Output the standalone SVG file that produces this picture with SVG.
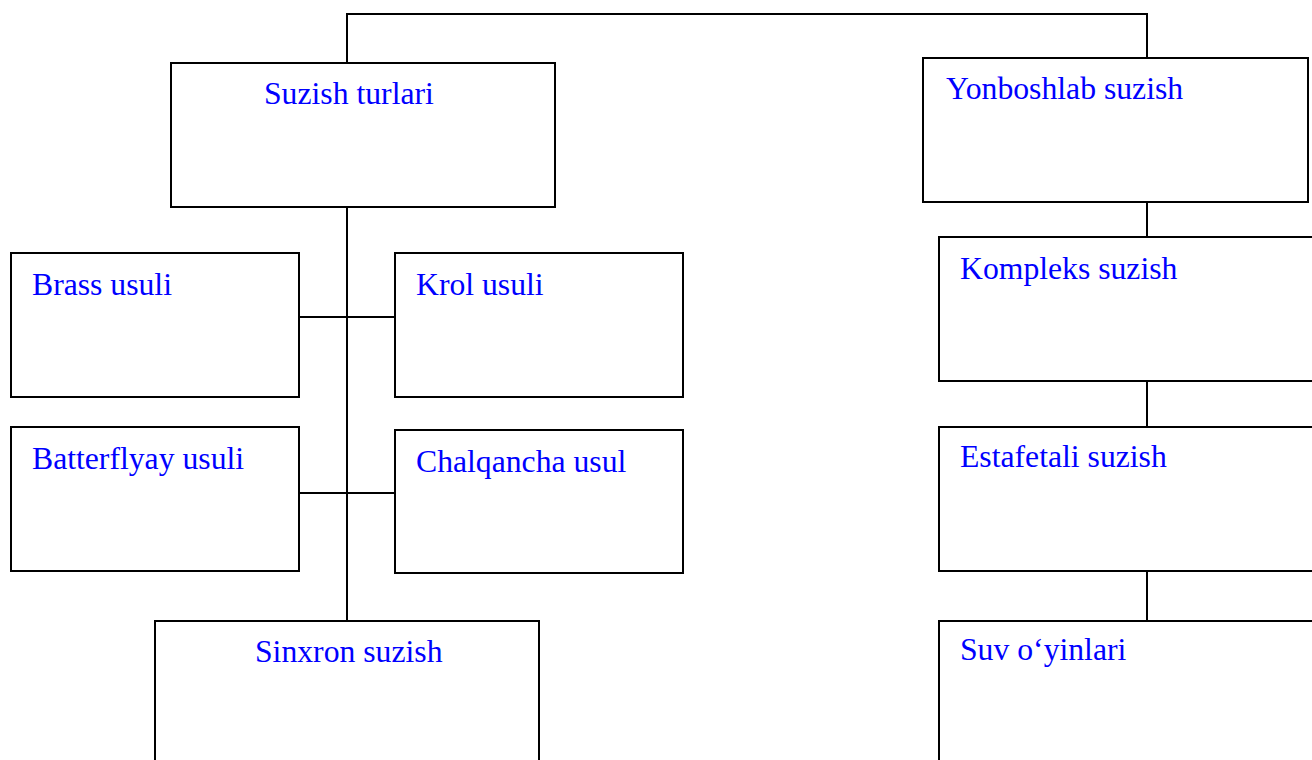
<svg xmlns="http://www.w3.org/2000/svg" width="1312" height="760" viewBox="0 0 1312 760">
<style>
.box{fill:#fff;stroke:#000;stroke-width:2}
.lbl{font-family:"Liberation Serif","Times New Roman",serif;font-size:31.7px;fill:#0000ff}
.con{fill:none;stroke:#000;stroke-width:2}
</style>
<rect width="1312" height="760" fill="#fff"/>
<g id="connectors">
<polyline class="con" points="347,63 347,14 1147,14 1147,58"/>
<line class="con" x1="347" y1="207" x2="347" y2="621"/>
<line class="con" x1="299" y1="317" x2="395" y2="317"/>
<line class="con" x1="299" y1="493" x2="395" y2="493"/>
<line class="con" x1="1147" y1="202" x2="1147" y2="237"/>
<line class="con" x1="1147" y1="381" x2="1147" y2="427"/>
<line class="con" x1="1147" y1="571" x2="1147" y2="621"/>
</g>
<g id="suzish-turlari"><rect class="box" x="171" y="63" width="384" height="144"/><text class="lbl" x="264" y="104">Suzish turlari</text></g>
<g id="yonboshlab"><rect class="box" x="923" y="58" width="385" height="144"/><text class="lbl" x="946" y="99">Yonboshlab suzish</text></g>
<g id="brass"><rect class="box" x="11" y="253" width="288" height="144"/><text class="lbl" x="32" y="295">Brass usuli</text></g>
<g id="krol"><rect class="box" x="395" y="253" width="288" height="144"/><text class="lbl" x="416" y="295">Krol usuli</text></g>
<g id="batterflyay"><rect class="box" x="11" y="427" width="288" height="144"/><text class="lbl" x="32" y="469">Batterflyay usuli</text></g>
<g id="chalqancha"><rect class="box" x="395" y="430" width="288" height="143"/><text class="lbl" x="416" y="472">Chalqancha usul</text></g>
<g id="sinxron"><rect class="box" x="155" y="621" width="384" height="160"/><text class="lbl" x="255" y="662">Sinxron suzish</text></g>
<g id="kompleks"><rect class="box" x="939" y="237" width="400" height="144"/><text class="lbl" x="960" y="279">Kompleks suzish</text></g>
<g id="estafetali"><rect class="box" x="939" y="427" width="400" height="144"/><text class="lbl" x="960" y="467">Estafetali suzish</text></g>
<g id="suv"><rect class="box" x="939" y="621" width="400" height="160"/><text class="lbl" x="960" y="660">Suv o‘yinlari</text></g>
</svg>
